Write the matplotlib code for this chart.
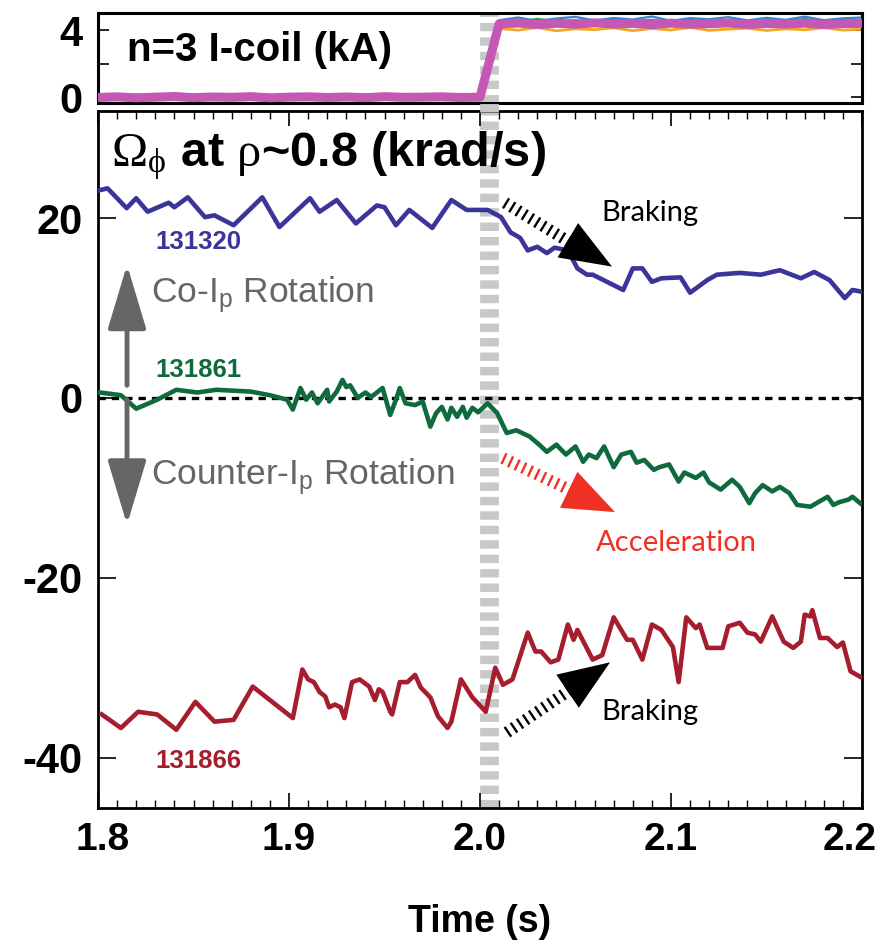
import matplotlib
matplotlib.use('Agg')
import matplotlib.pyplot as plt
import matplotlib.transforms as mtransforms
from matplotlib.lines import Line2D
from matplotlib.ticker import MultipleLocator

plt.rcParams['font.family'] = ['Liberation Sans', 'DejaVu Sans']
plt.rcParams['axes.unicode_minus'] = False
plt.rcParams['mathtext.fontset'] = 'custom'
plt.rcParams['mathtext.rm'] = 'Liberation Serif'
plt.rcParams['mathtext.it'] = 'Liberation Serif:italic'
plt.rcParams['mathtext.sf'] = 'Liberation Sans'
plt.rcParams['mathtext.bf'] = 'Liberation Sans:bold'

# ---- data ----
# n=3 I-coil current (kA), one value every 10 ms
coil_time = [1.80, 1.81, 1.82, 1.83, 1.84, 1.85, 1.86, 1.87, 1.88, 1.89, 1.90,
             1.91, 1.92, 1.93, 1.94, 1.95, 1.96, 1.97, 1.98, 1.99, 2.00,
             2.01, 2.02, 2.03, 2.04, 2.05, 2.06, 2.07, 2.08, 2.09, 2.10,
             2.11, 2.12, 2.13, 2.14, 2.15, 2.16, 2.17, 2.18, 2.19, 2.20]
coil_blue = [0.12, 0.06, 0.16, 0.08, 0.14, 0.05, 0.17, 0.09, 0.13, 0.07, 0.15,
             0.08, 0.11, 0.18, 0.06, 0.12, 0.09, 0.16, 0.07, 0.11, 0.08,
             4.62, 4.78, 4.58, 4.72, 4.82, 4.60, 4.75, 4.66, 4.84, 4.58,
             4.74, 4.68, 4.80, 4.61, 4.76, 4.64, 4.83, 4.62, 4.73, 4.78]
coil_orange = [-0.08, -0.12, -0.05, -0.13, -0.07, -0.10, -0.04, -0.12, -0.08, -0.05, -0.13,
               -0.07, -0.10, -0.08, -0.12, -0.05, -0.10, -0.07, -0.11, -0.08, -0.10,
               4.12, 4.02, 4.18, 3.98, 4.10, 4.05, 4.16, 3.99, 4.12, 4.03,
               4.18, 4.01, 4.08, 4.14, 4.00, 4.10, 4.04, 4.17, 4.02, 4.08]
coil_green = [0.04, 0.09, 0.02, 0.07, 0.05, 0.10, 0.03, 0.08, 0.06, 0.04, 0.09,
              0.02, 0.07, 0.05, 0.10, 0.03, 0.08, 0.04, 0.06, 0.09, 0.05,
              4.60, 4.52, 4.70, 4.55, 4.62, 4.50, 4.68, 4.57, 4.64, 4.53,
              4.70, 4.58, 4.61, 4.52, 4.66, 4.56, 4.69, 4.54, 4.63, 4.59]
coil_magenta = [-0.02, 0.02, -0.04, 0.00, 0.04, -0.03, 0.01, -0.01, 0.03, -0.04, 0.00,
                0.02, -0.02, 0.01, -0.03, 0.03, -0.01, 0.00, 0.02, -0.02, 0.00,
                4.40, 4.45, 4.36, 4.43, 4.38, 4.46, 4.39, 4.42, 4.36, 4.44,
                4.38, 4.41, 4.45, 4.37, 4.42, 4.39, 4.44, 4.36, 4.41, 4.43]

# toroidal rotation at rho~0.8 (krad/s)
t_131320 = [1.801, 1.805, 1.815, 1.820, 1.826, 1.837, 1.840, 1.847, 1.856, 1.861,
            1.871, 1.886, 1.895, 1.911, 1.916, 1.925, 1.935, 1.946, 1.950, 1.956,
            1.963, 1.975, 1.985, 1.993, 2.004, 2.011, 2.016, 2.021, 2.025, 2.030,
            2.035, 2.039, 2.046, 2.051, 2.056, 2.059, 2.075, 2.080, 2.085, 2.090,
            2.095, 2.105, 2.110, 2.119, 2.124, 2.136, 2.147, 2.157, 2.168, 2.175,
            2.183, 2.191, 2.195, 2.200]
w_131320 = [23.1, 23.3, 21.1, 22.2, 20.7, 21.7, 21.2, 22.3, 20.1, 20.3,
            19.2, 22.3, 19.0, 22.2, 20.7, 22.0, 19.4, 21.4, 21.2, 19.2,
            20.9, 18.9, 22.0, 20.9, 20.9, 20.1, 18.4, 17.8, 16.4, 16.8,
            16.1, 16.7, 16.4, 14.4, 13.7, 13.7, 12.0, 14.4, 14.4, 12.9,
            13.3, 13.4, 11.7, 13.1, 13.7, 13.9, 13.7, 14.2, 13.3, 14.0,
            13.1, 11.1, 12.0, 11.8]

t_131861 = [1.801, 1.812, 1.820, 1.831, 1.841, 1.852, 1.862, 1.880, 1.890, 1.899,
            1.902, 1.906, 1.909, 1.912, 1.915, 1.920, 1.921, 1.925, 1.928, 1.930,
            1.932, 1.936, 1.940, 1.943, 1.949, 1.953, 1.956, 1.958, 1.961, 1.966,
            1.970, 1.974, 1.977, 1.980, 1.983, 1.985, 1.988, 1.991, 1.993, 1.996,
            1.999, 2.004, 2.009, 2.014, 2.019, 2.026, 2.031, 2.035, 2.040, 2.045,
            2.050, 2.054, 2.057, 2.061, 2.065, 2.070, 2.074, 2.079, 2.082, 2.086,
            2.091, 2.094, 2.099, 2.104, 2.107, 2.113, 2.117, 2.120, 2.126, 2.132,
            2.136, 2.141, 2.144, 2.148, 2.153, 2.157, 2.162, 2.166, 2.173, 2.177,
            2.182, 2.185, 2.188, 2.193, 2.195, 2.199]
w_131861 = [0.6, 0.3, -1.2, -0.2, 0.9, 0.6, 0.9, 0.7, 0.3, -0.2,
            -1.3, 1.1, -0.2, 0.6, -0.6, 0.9, -0.4, 0.7, 2.0, 1.2,
            1.4, 0.0, 0.6, 0.1, 1.1, -1.9, -0.2, 1.1, -0.6, -0.8,
            -0.4, -3.2, -1.7, -1.0, -2.4, -1.1, -2.1, -1.0, -2.2, -1.1,
            -1.6, -0.6, -1.7, -3.9, -3.6, -4.3, -5.2, -6.0, -5.2, -6.3,
            -5.4, -7.1, -6.3, -6.7, -5.4, -7.7, -6.3, -6.0, -7.2, -6.9,
            -8.0, -7.7, -7.4, -9.3, -8.3, -8.9, -8.3, -9.4, -10.2, -9.1,
            -9.9, -11.7, -10.6, -9.7, -10.4, -9.9, -10.6, -11.9, -12.1, -11.6,
            -11.0, -11.9, -11.6, -11.3, -11.0, -11.7]

t_131866 = [1.802, 1.812, 1.821, 1.831, 1.841, 1.851, 1.861, 1.871, 1.881, 1.902,
            1.907, 1.910, 1.913, 1.916, 1.919, 1.921, 1.924, 1.927, 1.929, 1.933,
            1.937, 1.942, 1.945, 1.947, 1.949, 1.953, 1.954, 1.958, 1.962, 1.966,
            1.969, 1.974, 1.978, 1.983, 1.985, 1.990, 1.996, 2.003, 2.008, 2.012,
            2.017, 2.025, 2.029, 2.032, 2.037, 2.041, 2.046, 2.049, 2.051, 2.059,
            2.064, 2.070, 2.077, 2.080, 2.085, 2.090, 2.095, 2.101, 2.104, 2.108,
            2.113, 2.115, 2.119, 2.127, 2.130, 2.136, 2.140, 2.144, 2.147, 2.153,
            2.159, 2.164, 2.168, 2.170, 2.173, 2.174, 2.178, 2.182, 2.187, 2.190,
            2.194, 2.199]
w_131866 = [-35.2, -36.7, -34.9, -35.2, -36.9, -33.8, -36.0, -35.8, -32.1, -35.6,
            -30.2, -31.3, -31.6, -32.7, -33.2, -34.4, -34.1, -34.4, -35.6, -31.6,
            -31.3, -32.1, -33.6, -32.4, -32.7, -34.9, -35.2, -31.6, -31.6, -30.8,
            -32.2, -33.3, -35.4, -36.7, -36.0, -31.3, -33.3, -34.9, -30.0, -31.9,
            -31.3, -26.1, -28.2, -28.2, -29.4, -29.1, -25.2, -26.9, -25.8, -29.1,
            -28.6, -24.4, -26.9, -26.9, -29.1, -25.2, -25.8, -27.7, -31.6, -24.4,
            -25.6, -25.2, -27.8, -27.8, -25.4, -25.0, -26.1, -26.3, -27.1, -24.3,
            -27.1, -27.8, -27.1, -24.1, -24.3, -23.6, -26.7, -26.7, -27.7, -27.2,
            -30.4, -31.0]

coil_on = 2.0045

fig = plt.figure(figsize=(8.84, 9.47), dpi=100)
L, R = 98 / 884, 862 / 884
ax_top = fig.add_axes([L, 1 - 103 / 947, R - L, 90 / 947])
ax = fig.add_axes([L, 1 - 808 / 947, R - L, 697 / 947])

gray_kw = dict(color='#c8c8c8', lw=13.5, ls=(0, (0.45, 0.32)), zorder=1.5)

# ---- top panel: I-coil current ----
ax_top.plot(coil_time, coil_orange, color='#f5a623', lw=2, zorder=2)
ax_top.plot(coil_time, coil_green, color='#2ca25f', lw=1.6, zorder=2)
ax_top.plot(coil_time, coil_blue, color='#3a7fd0', lw=1.6, zorder=2)
ax_top.plot(coil_time, coil_magenta, color='#c557b5', lw=6.5, zorder=3)
ax_top.axvline(coil_on, **gray_kw)
ax_top.set_xlim(1.8, 2.2)
ax_top.set_ylim(-0.35, 5.05)
ax_top.set_xticks([])
ax_top.set_yticks([0, 2, 4])
ax_top.set_yticklabels(['0', '', '4'])
ax_top.tick_params(axis='y', direction='in', right=True, length=8, width=1.2,
                   labelsize=30, pad=11)
for lab in ax_top.get_yticklabels():
    lab.set_fontweight('bold')
for sp in ax_top.spines.values():
    sp.set_linewidth(2.2)
ax_top.text(1.8152, 2.85, 'n=3 I-coil (kA)', fontsize=29, fontweight='bold',
            va='center', ha='left')

# ---- main panel: rotation ----
ax.axvline(coil_on, **gray_kw)
ax.axhline(0, color='k', lw=2.4, ls=(0, (2.2, 1.8)), zorder=1.8)
ax.plot(t_131320, w_131320, color='#3b3499', lw=3.3, zorder=3)
ax.plot(t_131861, w_131861, color='#0f6b3d', lw=3.3, zorder=3)
ax.plot(t_131866, w_131866, color='#a61d2d', lw=3.3, zorder=3)

ax.set_xlim(1.8, 2.2)
ax.set_ylim(-45.6, 31.9)
ax.set_xticks([1.8, 1.9, 2.0, 2.1, 2.2])
ax.set_xticklabels(['1.8', '1.9', '2.0', '2.1', '2.2'])
ax.xaxis.set_minor_locator(MultipleLocator(0.01))
ax.set_yticks([-40, -20, 0, 20])
ax.tick_params(which='both', direction='in', top=True, right=True)
ax.tick_params(axis='x', which='major', length=11, width=1.2, labelsize=28, pad=10)
ax.tick_params(axis='x', which='minor', length=6, width=1)
ax.tick_params(axis='y', which='major', length=13, width=1.2, labelsize=30, pad=11)
for lab in ax.get_xticklabels() + ax.get_yticklabels():
    lab.set_fontweight('bold')
for sp in ax.spines.values():
    sp.set_linewidth(2)
ax.set_xlabel('Time (s)', fontsize=27, fontweight='bold', labelpad=33)

# end labels sit a little inside, as in the original
xlabels = ax.get_xticklabels()
xlabels[0].set_transform(xlabels[0].get_transform() +
                         mtransforms.ScaledTranslation(5 / 100, 0, fig.dpi_scale_trans))
xlabels[-1].set_transform(xlabels[-1].get_transform() +
                          mtransforms.ScaledTranslation(-12 / 100, 0, fig.dpi_scale_trans))

# gray marker bridging the gap between panels
trans = mtransforms.blended_transform_factory(ax.transData, fig.transFigure)
fig.add_artist(Line2D([coil_on, coil_on], [1 - 112 / 947, 1 - 102 / 947],
                      transform=trans, color='#c8c8c8', lw=13.5,
                      ls=(0, (0.45, 0.32))))

# title inside the panel
ax.text(1.807, 26.9, r'$\mathrm{\Omega_{\phi}}$ at $\mathrm{\rho}$~0.8 (krad/s)',
        fontsize=35, fontweight='bold', va='center', ha='left')

# shot labels
ax.text(1.830, 17.3, '131320', color='#3b3499', fontsize=18.5, fontweight='bold',
        va='center', ha='left')
ax.text(1.830, 3.1, '131861', color='#0f6b3d', fontsize=18.5, fontweight='bold',
        va='center', ha='left')
ax.text(1.830, -40.4, '131866', color='#a61d2d', fontsize=18.5, fontweight='bold',
        va='center', ha='left')

# co / counter direction arrows
gray_arrow = dict(arrowstyle='-|>,head_length=2.0,head_width=0.6', mutation_scale=20,
                  lw=3.5, color='#666666', shrinkA=0, shrinkB=0)
ax.annotate('', xy=(1.8152, 14.8), xytext=(1.8152, 1.4), arrowprops=gray_arrow)
ax.annotate('', xy=(1.8152, -14.1), xytext=(1.8152, -0.2), arrowprops=gray_arrow)
ax.text(1.8275, 11.4, r'Co-I$_\mathsf{p}$ Rotation', color='#666666', fontsize=25.5,
        va='center', ha='left')
ax.text(1.8275, -8.8, r'Counter-I$_\mathsf{p}$ Rotation', color='#666666', fontsize=25.5,
        va='center', ha='left')

# braking / acceleration arrows with hatched shafts
arrows = [
    ((2.0131, 21.7), (2.0508, 16.8), (2.0691, 14.6), 'k'),
    ((2.0120, -6.7), (2.0508, -10.6), (2.0707, -12.7), '#ee3124'),
    ((2.0141, -37.2), (2.0497, -32.1), (2.0681, -29.4), 'k'),
]
for start, end, tip, col in arrows:
    ax.plot([start[0], end[0]], [start[1], end[1]], color=col, lw=8.5,
            ls=(0, (0.2, 0.42)), dash_capstyle='butt', zorder=4)
    ax.annotate('', xy=tip, xytext=start,
                arrowprops=dict(arrowstyle='-|>,head_length=1.85,head_width=0.72',
                                mutation_scale=20, lw=0, color=col,
                                shrinkA=0, shrinkB=0), zorder=4)

script_font = ['Lato', 'Open Sans', 'DejaVu Sans']
ax.text(2.089, 20.6, 'Braking', fontsize=21, family=script_font, va='center', ha='center')
ax.text(2.1026, -16.1, 'Acceleration', fontsize=21, color='#ee3124', family=script_font,
        va='center', ha='center')
ax.text(2.089, -34.9, 'Braking', fontsize=21, family=script_font, va='center', ha='center')

fig.savefig('out.png', dpi=100)
